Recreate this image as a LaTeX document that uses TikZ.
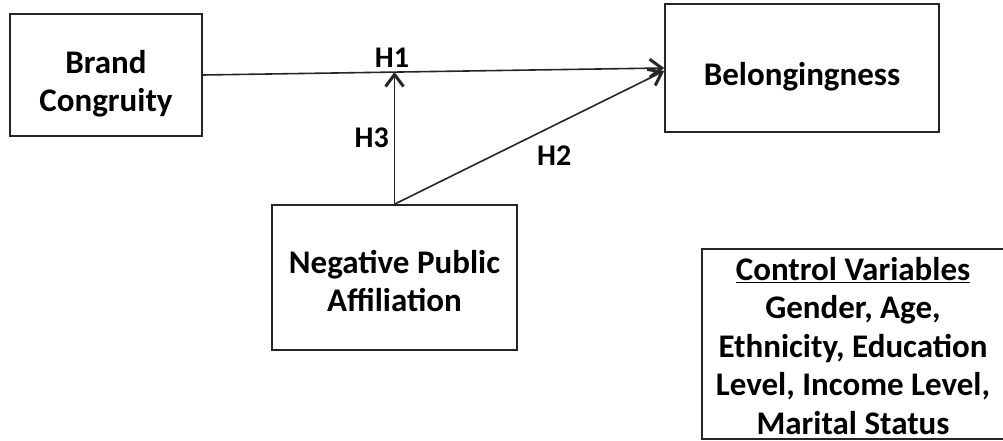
\documentclass[tikz,border=0pt]{standalone}
\usepackage{fontspec}
\setmainfont{Carlito}
\usetikzlibrary{arrows.meta,calc}

\begin{document}
\begin{tikzpicture}[x=1pt, y=-1pt, draw=black!85,
  box/.style={draw, line width=1.6pt, rectangle},
  boxtext/.style={align=center, font=\fontsize{33}{38}\selectfont\bfseries},
  hyp/.style={draw, line width=1.6pt, -{Straight Barb[length=12pt,width=18pt,line width=3pt]}},
  hlab/.style={font=\fontsize{30}{34}\selectfont\bfseries, inner sep=2pt}]

\useasboundingbox (0,0) rectangle (1003,441);

\node[box, minimum width=192pt, minimum height=122pt] (brand) at (106,75) {};
\node[boxtext] (brandtext) at ($(brand)+(0,9)$) {Brand\\Congruity};
\node[box, minimum width=274pt, minimum height=128pt] (belong) at (802,68) {};
\node[boxtext] (belongtext) at ($(belong)+(0,9)$) {Belongingness};
\node[box, minimum width=245pt, minimum height=145pt] (npa) at (394.5,277.5) {};
\node[boxtext] (npatext) at ($(npa)+(0,4)$) {Negative Public\\Affiliation};
\node[box, minimum width=302pt, minimum height=190pt] (ctrl) at (853,344) {};
\node[boxtext, font=\fontsize{33}{38.5}\selectfont\bfseries] (ctrltext) at ($(ctrl)+(0,2)$) {\underline{Control Variables}\\Gender, Age,\\Ethnicity, Education\\Level, Income Level,\\Marital Status};

\coordinate (h3tip) at ($(npa.north |- brand.east)+(0,-3)$);% meets the H1 line

\draw[hyp] (brand.east) -- (belong.west) node[hlab, pos=0.41, above=2pt] (h1) {H1};
\draw[hyp] (npa.north) -- (h3tip) node[hlab, midway, left=3pt] (h3) {H3};
\draw[hyp] (npa.north) -- ([yshift=-3pt]belong.west) node[hlab, pos=0.5, below right=5pt] (h2) {H2};
\end{tikzpicture}
\end{document}
